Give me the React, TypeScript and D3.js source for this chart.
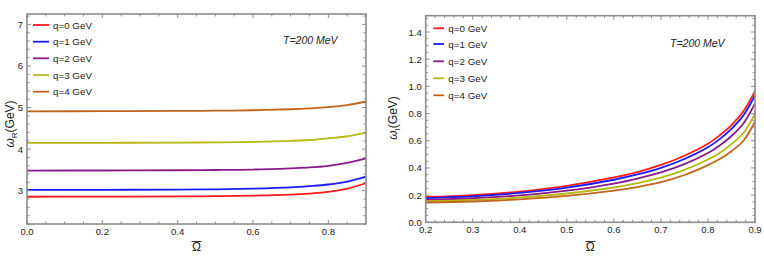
import React from 'react';
import * as d3 from 'd3';

// series labels + colours
const qLabels = ['q=0 GeV', 'q=1 GeV', 'q=2 GeV', 'q=3 GeV', 'q=4 GeV'];
const qColors = ['#ff1a1a', '#1a1aff', '#8a1a8a', '#b8b814', '#c0641c'];

// left panel: real part
const omegaLeft = [0, 0.2, 0.4, 0.5, 0.6, 0.7, 0.75, 0.8, 0.85, 0.9];
const reQ0 = [2.855, 2.857, 2.862, 2.868, 2.88, 2.905, 2.93, 2.97, 3.05, 3.18];
const reQ1 = [3.02, 3.022, 3.028, 3.035, 3.05, 3.08, 3.11, 3.15, 3.22, 3.34];
const reQ2 = [3.485, 3.487, 3.492, 3.498, 3.51, 3.54, 3.56, 3.6, 3.67, 3.78];
const reQ3 = [4.15, 4.152, 4.157, 4.163, 4.175, 4.2, 4.22, 4.26, 4.31, 4.4];
const reQ4 = [4.91, 4.912, 4.918, 4.925, 4.935, 4.96, 4.98, 5.01, 5.06, 5.14];

// right panel: imaginary part
const omegaRight = [0.2, 0.3, 0.4, 0.5, 0.6, 0.65, 0.7, 0.75, 0.8, 0.825, 0.85, 0.875, 0.9];
const imQ0 = [0.186, 0.2, 0.226, 0.268, 0.33, 0.37, 0.422, 0.49, 0.578, 0.64, 0.715, 0.815, 0.965];
const imQ1 = [0.178, 0.191, 0.216, 0.255, 0.313, 0.352, 0.4, 0.466, 0.552, 0.612, 0.688, 0.785, 0.935];
const imQ2 = [0.165, 0.177, 0.198, 0.233, 0.285, 0.322, 0.367, 0.428, 0.51, 0.565, 0.635, 0.725, 0.875];
const imQ3 = [0.155, 0.165, 0.183, 0.212, 0.256, 0.288, 0.328, 0.386, 0.462, 0.51, 0.575, 0.655, 0.8];
const imQ4 = [0.145, 0.153, 0.169, 0.194, 0.233, 0.259, 0.295, 0.348, 0.421, 0.465, 0.523, 0.598, 0.74];

const leftXTicks = [0, 0.2, 0.4, 0.6, 0.8];
const leftYTicks = [3, 4, 5, 6, 7];
const rightXTicks = [0.2, 0.3, 0.4, 0.5, 0.6, 0.7, 0.8, 0.9];
const rightYTicks = [0, 0.2, 0.4, 0.6, 0.8, 1.0, 1.2, 1.4];

const FONT = '"Liberation Sans", Arial, sans-serif';
const FRAME = '#8c8c8c';

type PanelProps = {
  x0: number; x1: number; y0: number; y1: number;
  xDomain: [number, number]; yDomain: [number, number];
  xs: number[]; series: number[][];
  xTicks: number[]; yTicks: number[];
  xMinor: number; yMinor: number;
  xFmt: (v: number) => string; yFmt: (v: number) => string;
  legend: { lx0: number; lx1: number; tx: number; ys: number[] };
  tPos: [number, number];
  yLabelX: number; yLabelY: number; sub: string;
};

const Panel = (p: PanelProps) => {
  const x = d3.scaleLinear().domain(p.xDomain).range([p.x0, p.x1]);
  const y = d3.scaleLinear().domain(p.yDomain).range([p.y1, p.y0]);
  const line = d3.line<[number, number]>()
    .x(d => x(d[0]))
    .y(d => y(d[1]))
    .curve(d3.curveCatmullRom.alpha(0.5));

  const eps = 1e-6;
  const isMajor = (v: number, ticks: number[]) => ticks.some(t => Math.abs(t - v) < eps);
  const xMinors = d3.range(p.xDomain[0], p.xDomain[1] + eps, p.xMinor).filter(v => !isMajor(v, p.xTicks));
  const yMinors = d3.range(Math.ceil(p.yDomain[0] / p.yMinor) * p.yMinor, p.yDomain[1] + eps, p.yMinor)
    .filter(v => !isMajor(v, p.yTicks));

  const tickLines: JSX.Element[] = [];
  const addX = (v: number, len: number, k: string) => {
    const px = x(v);
    tickLines.push(<line key={'xb' + k} x1={px} x2={px} y1={p.y1} y2={p.y1 - len} stroke={FRAME} strokeWidth={1} />);
    tickLines.push(<line key={'xt' + k} x1={px} x2={px} y1={p.y0} y2={p.y0 + len} stroke={FRAME} strokeWidth={1} />);
  };
  const addY = (v: number, len: number, k: string) => {
    const py = y(v);
    tickLines.push(<line key={'yl' + k} x1={p.x0} x2={p.x0 + len} y1={py} y2={py} stroke={FRAME} strokeWidth={1} />);
    tickLines.push(<line key={'yr' + k} x1={p.x1} x2={p.x1 - len} y1={py} y2={py} stroke={FRAME} strokeWidth={1} />);
  };
  p.xTicks.forEach((v, i) => addX(v, 4, 'M' + i));
  xMinors.forEach((v, i) => addX(v, 2.5, 'm' + i));
  p.yTicks.forEach((v, i) => addY(v, 4, 'M' + i));
  yMinors.forEach((v, i) => addY(v, 2.5, 'm' + i));

  const cx = (p.x0 + p.x1) / 2;

  return (
    <g>
      {p.series.map((s, i) => (
        <path key={i} d={line(p.xs.map((v, j) => [v, s[j]] as [number, number])) || ''}
          fill="none" stroke={qColors[i]} strokeWidth={1.8} />
      ))}
      {tickLines}
      <rect x={p.x0} y={p.y0} width={p.x1 - p.x0} height={p.y1 - p.y0} fill="none" stroke={FRAME} strokeWidth={1.6} />
      {p.xTicks.map((v, i) => (
        <text key={'xl' + i} x={x(v)} y={p.y1 + 11} textAnchor="middle" fontFamily={FONT} fontSize={9.5} fill="#222">{p.xFmt(v)}</text>
      ))}
      {p.yTicks.map((v, i) => (
        <text key={'yl' + i} x={p.x0 - 4} y={y(v) + 3.5} textAnchor="end" fontFamily={FONT} fontSize={9.5} fill="#222">{p.yFmt(v)}</text>
      ))}
      {/* Omega-bar axis label */}
      <text x={cx} y={251} textAnchor="middle" fontFamily={FONT} fontSize={12} fill="#222">Ω</text>
      <line x1={cx - 5} x2={cx + 5} y1={241.5} y2={241.5} stroke="#222" strokeWidth={0.9} />
      <text transform={`translate(${p.yLabelX},${p.yLabelY}) rotate(-90)`} textAnchor="middle" fontFamily={FONT} fontSize={12} fill="#222">
        <tspan fontStyle="italic">ω</tspan>
        <tspan fontSize={8} dy={3}>{p.sub}</tspan>
        <tspan dy={-3}>(GeV)</tspan>
      </text>
      <text x={p.tPos[0]} y={p.tPos[1]} fontFamily={FONT} fontStyle="italic" fontSize={10.5} fill="#222">T=200 MeV</text>
      {qLabels.map((lab, i) => (
        <g key={'lg' + i}>
          <line x1={p.legend.lx0} x2={p.legend.lx1} y1={p.legend.ys[i]} y2={p.legend.ys[i]} stroke={qColors[i]} strokeWidth={1.8} />
          <text x={p.legend.tx} y={p.legend.ys[i] + 3.5} fontFamily={FONT} fontSize={9.8} fill="#222">{lab}</text>
        </g>
      ))}
    </g>
  );
};

export default function App() {
  return (
    <div style={{ position: 'fixed', left: 0, top: 0 }}>
      <svg width={764} height={270} style={{ display: 'block', background: '#fff' }}>
        <Panel
          x0={27} x1={366} y0={14} y1={224}
          xDomain={[0, 0.9]} yDomain={[2.2, 7.25]}
          xs={omegaLeft} series={[reQ0, reQ1, reQ2, reQ3, reQ4]}
          xTicks={leftXTicks} yTicks={leftYTicks}
          xMinor={0.05} yMinor={0.2}
          xFmt={d3.format('.1f')} yFmt={d3.format('d')}
          legend={{ lx0: 33, lx1: 49, tx: 53, ys: [25, 41.7, 58.3, 75, 91.7] }}
          tPos={[283, 44]}
          yLabelX={14} yLabelY={124} sub="R"
        />
        <Panel
          x0={425.7} x1={755} y0={15.7} y1={222.3}
          xDomain={[0.2, 0.9]} yDomain={[0, 1.52]}
          xs={omegaRight} series={[imQ0, imQ1, imQ2, imQ3, imQ4]}
          xTicks={rightXTicks} yTicks={rightYTicks}
          xMinor={0.02} yMinor={0.05}
          xFmt={d3.format('.1f')} yFmt={d3.format('.1f')}
          legend={{ lx0: 433.3, lx1: 444, tx: 448.3, ys: [28.3, 44, 61.3, 78.3, 95.3] }}
          tPos={[670, 47]}
          yLabelX={397} yLabelY={118} sub="I"
        />
      </svg>
    </div>
  );
}
